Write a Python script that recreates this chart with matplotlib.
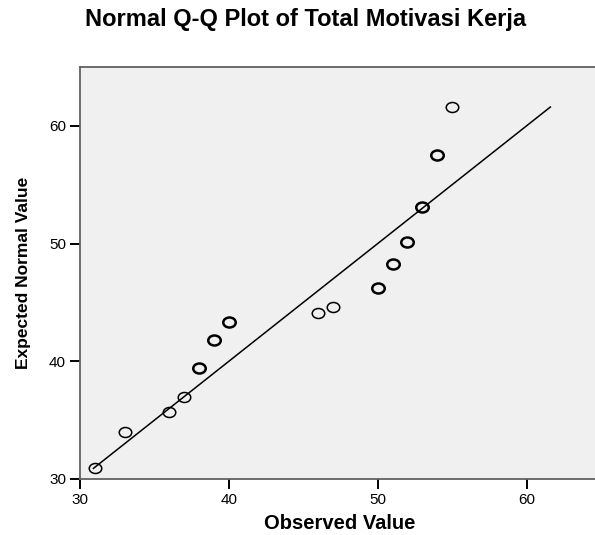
import numpy as np
import matplotlib
matplotlib.use('Agg')
import matplotlib.pyplot as plt
from matplotlib.path import Path
from matplotlib.transforms import Affine2D

plt.rcParams['font.family'] = ['Liberation Sans', 'DejaVu Sans']

# observed values, expected normal values, and number of cases at each point
observed = [31, 33, 36, 37, 38, 39, 40, 46, 47, 50, 51, 52, 53, 54, 55]
expected = [30.9, 34.0, 35.7, 37.0, 39.4, 41.8, 43.3, 44.1, 44.6, 46.2, 48.3, 50.1, 53.1, 57.5, 61.6]
counts = [1, 1, 1, 1, 2, 2, 2, 1, 1, 2, 2, 2, 2, 2, 1]
xticks = [30, 40, 50, 60]
yticks = [30, 40, 50, 60]

fig = plt.figure(figsize=(5.95, 5.35), dpi=100)
ax = fig.add_axes([80 / 595, 56 / 535, 515 / 595, 412 / 535])
ax.set_facecolor('#f0f0f0')

# slightly wide open circle, like the SPSS output
ellipse = Path.unit_circle().transformed(Affine2D().scale(1.25, 1.0))

# reference line y = x over range of expected values
lo, hi = min(expected), max(expected)
ax.plot([lo, hi], [lo, hi], color='black', lw=1.1, zorder=2)

for x, y, c in zip(observed, expected, counts):
    ax.plot(x, y, marker=ellipse, markersize=9, mfc='none', mec='black',
            mew=1.1 if c == 1 else 1.8, linestyle='none', zorder=3)

ax.set_xlim(30, 64.6)
ax.set_ylim(30, 65)
ax.set_xticks(xticks)
ax.set_yticks(yticks)
ax.tick_params(direction='out', length=7, width=1.4, labelsize=11, pad=3)
for s in ['left', 'bottom', 'top']:
    ax.spines[s].set_color('#606060')
    ax.spines[s].set_linewidth(1.3)
ax.spines['right'].set_visible(False)

ax.set_xlabel('Observed Value', fontsize=14.5, fontweight='bold')
ax.xaxis.set_label_coords(0.505, -0.085)
ax.set_ylabel('Expected Normal Value', fontsize=12.5, fontweight='bold')
ax.yaxis.set_label_coords(-0.095, 0.5)
fig.text(306 / 595, 1 - 26 / 535, 'Normal Q-Q Plot of Total Motivasi Kerja',
         ha='center', va='baseline', fontsize=17, fontweight='bold')

fig.savefig('out.png', dpi=100)
